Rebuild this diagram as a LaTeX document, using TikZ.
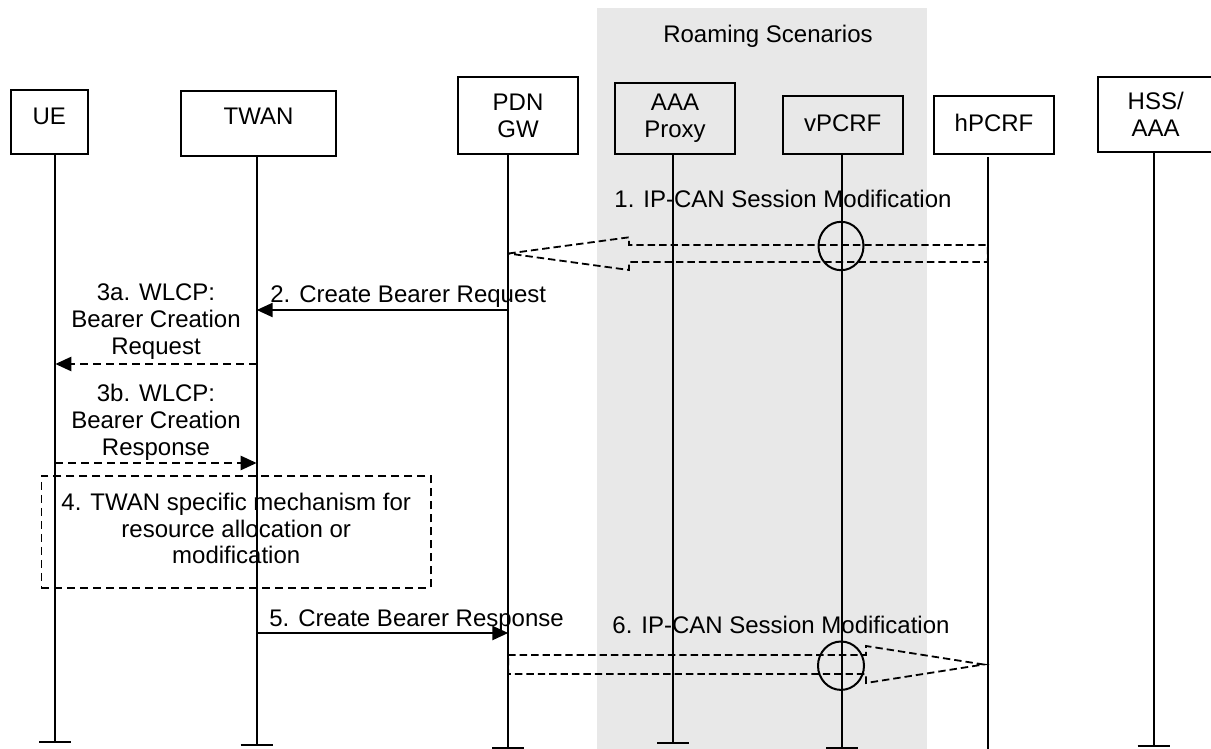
\documentclass[tikz,border=0pt]{standalone}
\usepackage{fontspec}
\setmainfont{Liberation Sans}
\usetikzlibrary{arrows.meta}
\definecolor{roamgrey}{RGB}{232,232,232}
\tikzset{
  entity/.style={draw,line width=1.1pt,inner sep=0pt,align=center},
  lifeline/.style={line width=1pt},
  msg/.style={line width=1.2pt,->},
  dmsg/.style={msg,dash pattern=on 4pt off 2.5pt},
  bigmsg/.style={line width=0.9pt,dash pattern=on 3.7pt off 2pt},
  stepbox/.style={draw,line width=0.85pt,dash pattern=on 4pt off 2.5pt,inner sep=0pt,align=center},
  ring/.style={line width=1pt},
  lbl/.style={inner sep=0pt,anchor=base,align=center}
}
\begin{document}
\begin{tikzpicture}[x=0.5pt,y=-0.5pt,font=\fontsize{12}{13.4}\selectfont,
  >={Triangle[length=8pt,width=7pt]}]
\useasboundingbox (0,0) rectangle (1211,749);
\fill[roamgrey] (597.3,8.3) rectangle (926.7,749);
\node[lbl] (roam) at (768,43) {Roaming Scenarios};

\node[entity,minimum width=38.5pt,minimum height=31.85pt,text depth=5.2pt] (ue) at (49.2,121.85) {UE};
\node[entity,minimum width=77.5pt,minimum height=32.35pt,text depth=6.7pt] (twan) at (258.5,123.35) {TWAN};
\node[entity,minimum width=60pt,minimum height=38.2pt] (pdn) at (518,115.5) {PDN\\GW};
\node[entity,minimum width=60pt,minimum height=35.5pt] (aaa) at (675,118.2) {AAA\\Proxy};
\node[entity,minimum width=60pt,minimum height=28.85pt,text depth=2.2pt] (vpcrf) at (842.7,124.85) {vPCRF};
\node[entity,minimum width=60pt,minimum height=28.85pt,text depth=2.2pt] (hpcrf) at (994,124.85) {hPCRF};
\node[entity,minimum width=58pt,minimum height=37.8pt] (hss) at (1155.7,114.5) {HSS/\\AAA};

\coordinate (ue-end) at (55.3,741.7);
\coordinate (twan-end) at (256.7,745);
\coordinate (pdn-end) at (508.3,747.7);
\coordinate (aaa-end) at (673.3,742.7);
\coordinate (vpcrf-end) at (842,748);
\coordinate (hpcrf-end) at (987.7,749);
\coordinate (hss-end) at (1153.7,745.7);

\foreach \e in {ue,twan,pdn,aaa,vpcrf,hss}
  \draw[lifeline] (\e-end |- \e.south) -- (\e-end) ++(-16,0) -- ++(32,0);
\draw[lifeline] (hpcrf-end |- 0,157) -- (hpcrf-end);

\draw[bigmsg] (pdn-end |- 0,253.5) -- (629,237.3) -- (629,245) -- (hpcrf-end |- 0,245)
  -- (hpcrf-end |- 0,262) -- (629,262) -- (629,270) -- cycle;
\draw[ring] (841,246) ellipse [x radius=11.25pt,y radius=12.1pt];
\node[lbl] (m1) at (783,207) {1. IP-CAN Session Modification};

\draw[msg] (pdn-end |- 0,310) -- (twan-end |- 0,310);
\node[lbl,anchor=base west] (m2) at (270,302.7) {2. Create Bearer Request};

\draw[dmsg] (twan-end |- 0,364) -- (ue-end |- 0,364);
\node[lbl] (m3a) at (156,354) {3a. WLCP:\\Bearer Creation\\Request};

\draw[dmsg] (ue-end |- 0,463) -- (twan-end |- 0,463);
\node[lbl] (m3b) at (156,455) {3b. WLCP:\\Bearer Creation\\Response};

\node[stepbox,minimum width=194.85pt,minimum height=55.85pt,text depth=3.5pt] (m4) at (236.2,531.9)
  {4. TWAN specific mechanism for\\resource allocation or\\modification};

\draw[msg] (twan-end |- 0,633) -- (pdn-end |- 0,633);
\node[lbl,anchor=base west] (m5) at (269,626.7) {5. Create Bearer Response};

\draw[bigmsg] (pdn-end |- 0,655) -- (866,655) -- (866,646) -- ([xshift=-2pt]hpcrf-end |- 0,664.5)
  -- (866,683) -- (866,674) -- (pdn-end |- 0,674) -- cycle;
\draw[ring] (841,665.7) ellipse [x radius=11.5pt,y radius=12.1pt];
\node[lbl] (m6) at (781,633) {6. IP-CAN Session Modification};
\end{tikzpicture}
\end{document}
